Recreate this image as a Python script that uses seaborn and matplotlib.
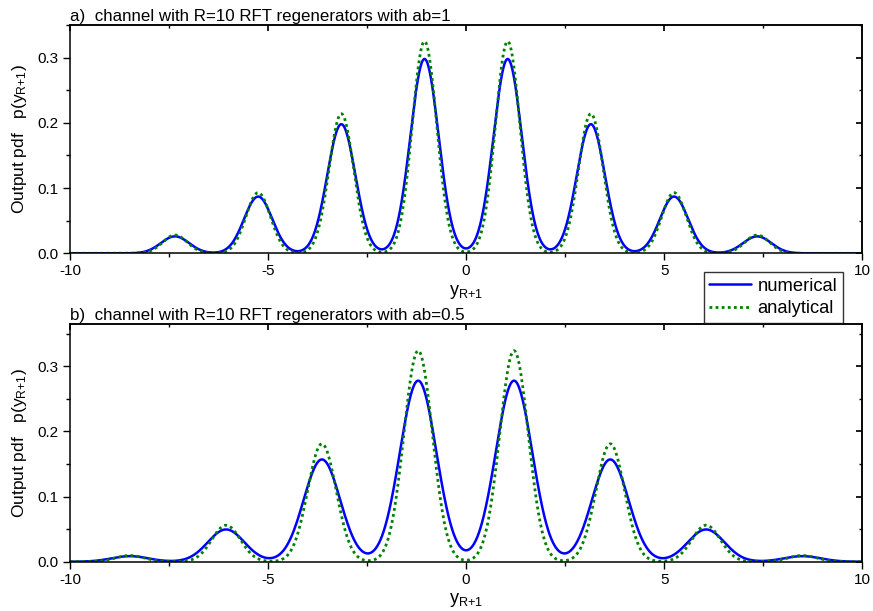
import numpy as np
import pandas as pd
import seaborn as sns
import matplotlib
matplotlib.use("Agg")
import matplotlib.pyplot as plt
from matplotlib.ticker import MultipleLocator, FuncFormatter, FormatStrFormatter

sns.set_theme(style="white")
plt.rcParams["font.family"] = ["Liberation Sans", "DejaVu Sans"]
plt.rcParams["mathtext.fontset"] = "custom"
plt.rcParams["mathtext.rm"] = "Liberation Sans"
plt.rcParams["mathtext.it"] = "Liberation Sans"
for key in ["text.color", "axes.labelcolor", "xtick.color", "ytick.color",
            "xtick.labelcolor", "ytick.labelcolor", "axes.edgecolor"]:
    plt.rcParams[key] = "black"

# Panel a): ab = 1 -- peak positions and heights of the output pdf
peaks_a = [-7.35, -5.25, -3.15, -1.05, 1.05, 3.15, 5.25, 7.35]
numerical_a = [0.026, 0.087, 0.198, 0.298, 0.298, 0.198, 0.087, 0.026]
analytical_a = [0.028, 0.093, 0.214, 0.325, 0.325, 0.214, 0.093, 0.028]
width_num_a = 0.355
width_ana_a = 0.31

# Panel b): ab = 0.5
peaks_b = [-8.49, -6.06, -3.64, -1.21, 1.21, 3.64, 6.06, 8.49]
numerical_b = [0.0085, 0.0495, 0.157, 0.278, 0.278, 0.157, 0.0495, 0.0085]
analytical_b = [0.0095, 0.056, 0.181, 0.324, 0.324, 0.181, 0.056, 0.0095]
width_num_b = 0.46
width_ana_b = 0.36

titles = ["a)  channel with R=10 RFT regenerators with ab=1",
          "b)  channel with R=10 RFT regenerators with ab=0.5"]
ylims = [0.35, 0.365]

y = np.linspace(-10, 10, 2001)


def pdf(centres, heights, width):
    c = np.asarray(centres)[:, None]
    h = np.asarray(heights)[:, None]
    return (h * np.exp(-(y[None, :] - c) ** 2 / (2 * width ** 2))).sum(axis=0)


def frame(centres, num, ana, wn, wa):
    return pd.concat([
        pd.DataFrame({"y": y, "p": pdf(centres, num, wn), "kind": "numerical"}),
        pd.DataFrame({"y": y, "p": pdf(centres, ana, wa), "kind": "analytical"}),
    ])


data = [frame(peaks_a, numerical_a, analytical_a, width_num_a, width_ana_a),
        frame(peaks_b, numerical_b, analytical_b, width_num_b, width_ana_b)]

fig = plt.figure(figsize=(8.73, 6.11), dpi=100)
ax_a = fig.add_axes([0.0802, 0.5854, 0.9074, 0.3736])
ax_b = fig.add_axes([0.0802, 0.0807, 0.9074, 0.3890])

sub = r"$_{\mathrm{R{+}1}}$"
palette = {"numerical": "#0000ff", "analytical": "#008000"}
for ax, df, title, ytop in zip([ax_a, ax_b], data, titles, ylims):
    num = df[df.kind == "numerical"]
    ana = df[df.kind == "analytical"]
    sns.lineplot(data=num, x="y", y="p", ax=ax, color=palette["numerical"],
                 lw=1.8, label="numerical")
    sns.lineplot(data=ana, x="y", y="p", ax=ax, color=palette["analytical"],
                 lw=2.0, linestyle=(0, (1, 1.2)), label="analytical")
    ax.set_xlim(-10, 10)
    ax.set_ylim(0, ytop)
    ax.xaxis.set_major_locator(MultipleLocator(5))
    ax.xaxis.set_minor_locator(MultipleLocator(2.5))
    ax.yaxis.set_major_locator(MultipleLocator(0.1))
    ax.yaxis.set_minor_locator(MultipleLocator(0.05))
    ax.xaxis.set_major_formatter(FuncFormatter(lambda v, p: f"{v:g}"))
    ax.yaxis.set_major_formatter(FormatStrFormatter("%.1f"))
    ax.tick_params(which="both", direction="out", length=5, width=1,
                   color="black", labelcolor="black", labelsize=11, pad=3,
                   bottom=True, left=True)
    ax.tick_params(which="minor", length=3)
    for s in ax.spines.values():
        s.set_visible(True)
        s.set_color("black")
        s.set_linewidth(1.1)
    sec_x = ax.secondary_xaxis("top")
    sec_x.xaxis.set_major_locator(MultipleLocator(5))
    sec_x.xaxis.set_minor_locator(MultipleLocator(2.5))
    sec_x.tick_params(which="both", direction="in", length=4, labeltop=False)
    sec_x.tick_params(which="minor", length=2.5)
    sec_x.spines["top"].set_linewidth(1.1)
    sec_y = ax.secondary_yaxis("right")
    sec_y.yaxis.set_major_locator(MultipleLocator(0.1))
    sec_y.yaxis.set_minor_locator(MultipleLocator(0.05))
    sec_y.tick_params(which="both", direction="in", length=4, labelright=False)
    sec_y.tick_params(which="minor", length=2.5)
    sec_y.spines["right"].set_linewidth(1.1)
    ax.set_xlabel("y" + sub, fontsize=13, labelpad=3, color="black")
    ax.set_ylabel("Output pdf   p(y" + sub + ")", fontsize=12.5, labelpad=6,
                  color="black")
    ax.set_title(title, loc="left", fontsize=12.2, pad=3, color="black")
    ax.get_legend().remove()

handles, labels = ax_a.get_legend_handles_labels()
leg = fig.legend(handles, labels, loc="upper right",
                 bbox_to_anchor=(0.9656, 0.5548), fontsize=13.2,
                 frameon=True, fancybox=False, shadow=False,
                 borderpad=0.3, labelspacing=0.3, handlelength=2.3,
                 handletextpad=0.35, borderaxespad=0)
leg.get_frame().set_edgecolor("black")
leg.get_frame().set_linewidth(1.0)
for t in leg.get_texts():
    t.set_color("black")

fig.savefig("out.png", dpi=100)
